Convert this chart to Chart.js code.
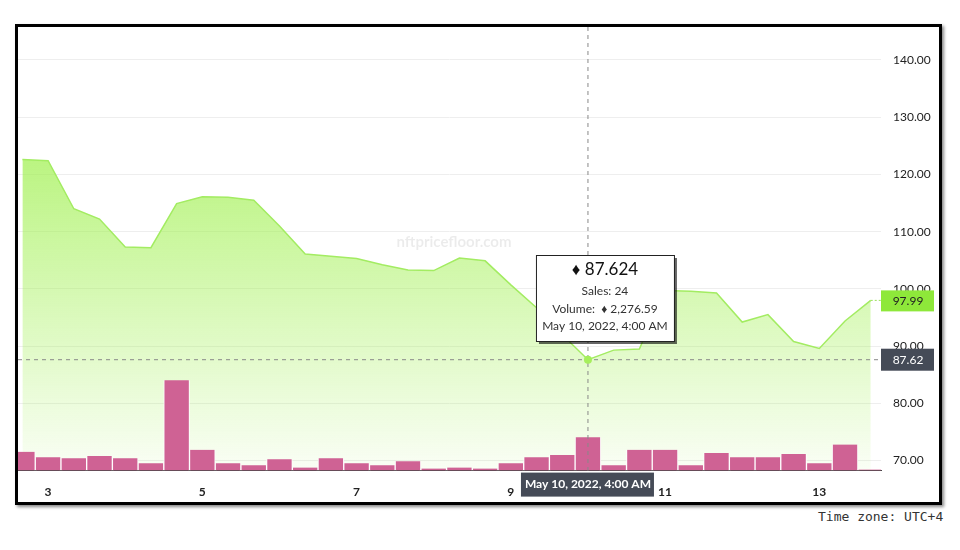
<!DOCTYPE html>
<html>
<head>
<meta charset="utf-8">
<script src="https://cdn.jsdelivr.net/npm/chart.js@4/dist/chart.umd.min.js"></script>
<style>
  body { margin: 0; background: #fff; width: 960px; height: 550px; position: relative; font-family: Lato, sans-serif; }
  #frame { position: absolute; left: 15px; top: 24px; width: 921px; height: 475px; border: 3px solid #000; box-shadow: 2px 2px 3px #888; background: #fff; }
  #tz { position: absolute; left: 818px; top: 509px; font: 13px "DejaVu Sans Mono", monospace; color: #333; }
</style>
</head>
<body>
<div id="frame"><canvas id="floorChart" width="921" height="475"></canvas></div>
<div id="tz">Time zone: UTC+4</div>
<script>
// day of month (8h steps starting May 2, 16:00)
const days = [];
for (let k = 0; k < 34; k++) days.push(2.667 + k / 3);
const floorPrice = [122.6, 122.4, 114.0, 112.2, 107.3, 107.2, 114.9, 116.1, 116.0, 115.5, 111.0, 106.1,
  105.7, 105.3, 104.2, 103.3, 103.2, 105.4, 104.9, 100.7, 96.7, 92.0, 87.624, 89.3, 89.5, 99.7, 99.6,
  99.3, 94.2, 95.5, 90.8, 89.6, 94.4, 97.99];
const volume = [1280, 920, 850, 990, 850, 500, 6180, 1420, 500, 360, 780, 210, 850, 500, 360, 640, 140,
  210, 140, 500, 920, 1060, 2276.59, 360, 1420, 1420, 360, 1210, 920, 920, 1140, 500, 1780, 70];
const dayTicks = [3, 5, 7, 9, 11, 13];
const priceTicks = [70, 80, 90, 100, 110, 120, 130, 140];
const activeIndex = 22;

const overlay = {
  id: 'overlay',
  afterDraw(chart) {
    const c = chart.ctx, x = chart.scales.x, y = chart.scales.y, area = chart.chartArea;
    const px = x.getPixelForValue(days[activeIndex]);
    const py = y.getPixelForValue(floorPrice[activeIndex]);
    const lastY = y.getPixelForValue(floorPrice[floorPrice.length - 1]);
    c.save();
    // watermark
    c.font = 'bold 15px Lato'; c.fillStyle = 'rgba(0,0,0,0.08)'; c.textAlign = 'center';
    c.fillText('nftpricefloor.com', 436, 220);
    // crosshair
    c.setLineDash([4, 4]); c.strokeStyle = '#888'; c.lineWidth = 1;
    c.beginPath(); c.moveTo(px, 0); c.lineTo(px, area.bottom); c.stroke();
    c.beginPath(); c.moveTo(area.left, py); c.lineTo(area.right, py); c.stroke();
    c.setLineDash([2, 2]); c.strokeStyle = '#9be05a';
    c.beginPath(); c.moveTo(x.getPixelForValue(days[days.length - 1]), lastY); c.lineTo(area.right, lastY); c.stroke();
    c.setLineDash([]);
    // point
    c.fillStyle = '#a6ef5c'; c.beginPath(); c.arc(px, py, 4, 0, Math.PI * 2); c.fill();
    // right labels
    c.font = '12px Lato'; c.textAlign = 'center'; c.textBaseline = 'middle';
    c.fillStyle = '#8ee83a'; c.fillRect(area.right, lastY - 10, 53, 21);
    c.fillStyle = '#222'; c.fillText(floorPrice[floorPrice.length - 1].toFixed(2), area.right + 27, lastY + 1);
    c.fillStyle = '#454b57'; c.fillRect(area.right, py - 11, 53, 22);
    c.fillStyle = '#fff'; c.fillText(floorPrice[activeIndex].toFixed(2), area.right + 27, py);
    // bottom date label
    c.fillStyle = '#454b57'; c.fillRect(px - 67, area.bottom + 2, 133, 24);
    c.fillStyle = '#fff'; c.font = 'bold 12px Lato';
    c.fillText('May 10, 2022, 4:00 AM', px, area.bottom + 14);
    // tooltip box
    const bx = px - 52, by = 228, bw = 138, bh = 86;
    c.fillStyle = 'rgba(0,0,0,0.6)'; c.fillRect(bx + 3, by + 3, bw, bh);
    c.fillStyle = '#fff'; c.fillRect(bx, by, bw, bh);
    c.strokeStyle = '#222'; c.lineWidth = 1; c.strokeRect(bx + 0.5, by + 0.5, bw, bh);
    c.fillStyle = '#111';
    c.font = '17px Lato'; c.fillText('♦ ' + floorPrice[activeIndex].toFixed(3), bx + bw / 2, by + 15);
    c.font = '12px Lato'; c.fillStyle = '#333';
    c.fillText('Sales: 24', bx + bw / 2, by + 36);
    c.fillText('Volume:  ♦ ' + volume[activeIndex].toLocaleString('en-US', { minimumFractionDigits: 2 }), bx + bw / 2, by + 54);
    c.fillText('May 10, 2022, 4:00 AM', bx + bw / 2, by + 71);
    c.restore();
  }
};

const ctx = document.getElementById('floorChart').getContext('2d');
const grad = ctx.createLinearGradient(0, 0, 0, 445);
grad.addColorStop(0, 'rgba(160,240,80,1)');
grad.addColorStop(1, 'rgba(160,240,80,0.05)');

new Chart(ctx, {
  data: {
    datasets: [{
      type: 'line',
      data: days.map((d, i) => ({ x: d, y: floorPrice[i] })),
      borderColor: '#a3ec62', borderWidth: 1.5, backgroundColor: grad,
      fill: 'start', pointRadius: 0, tension: 0, yAxisID: 'y', order: 2
    }, {
      type: 'bar',
      data: days.map((d, i) => ({ x: d, y: volume[i] })),
      backgroundColor: '#cf6294', borderColor: '#fff', borderWidth: { left: 1, right: 1 },
      barPercentage: 1, categoryPercentage: 1, yAxisID: 'vol', order: 1
    }]
  },
  options: {
    responsive: false, animation: false,
    layout: { autoPadding: false, padding: { left: 0, right: 4, top: -18, bottom: -3 } },
    plugins: { legend: { display: false }, tooltip: { enabled: false } },
    scales: {
      x: {
        type: 'linear', min: 2.61, max: 13.8, offset: false,
        afterBuildTicks: s => { s.ticks = dayTicks.map(v => ({ value: v })); },
        grid: { display: false, offset: false }, border: { color: '#444' },
        ticks: { color: '#222', font: { family: 'Lato', weight: 'bold', size: 12 }, padding: 6 }
      },
      y: {
        position: 'right', min: 68.25, max: 142.4,
        afterBuildTicks: s => { s.ticks = priceTicks.map(v => ({ value: v })); },
        grid: { color: '#eee', drawTicks: false }, border: { display: false },
        afterFit: s => { s.width = 54; },
        ticks: { color: '#222', padding: 12, font: { family: 'Lato', size: 12 }, callback: v => v.toFixed(2) }
      },
      vol: { display: false, min: 0, max: 29000 }
    }
  },
  plugins: [overlay]
});
</script>
</body>
</html>
